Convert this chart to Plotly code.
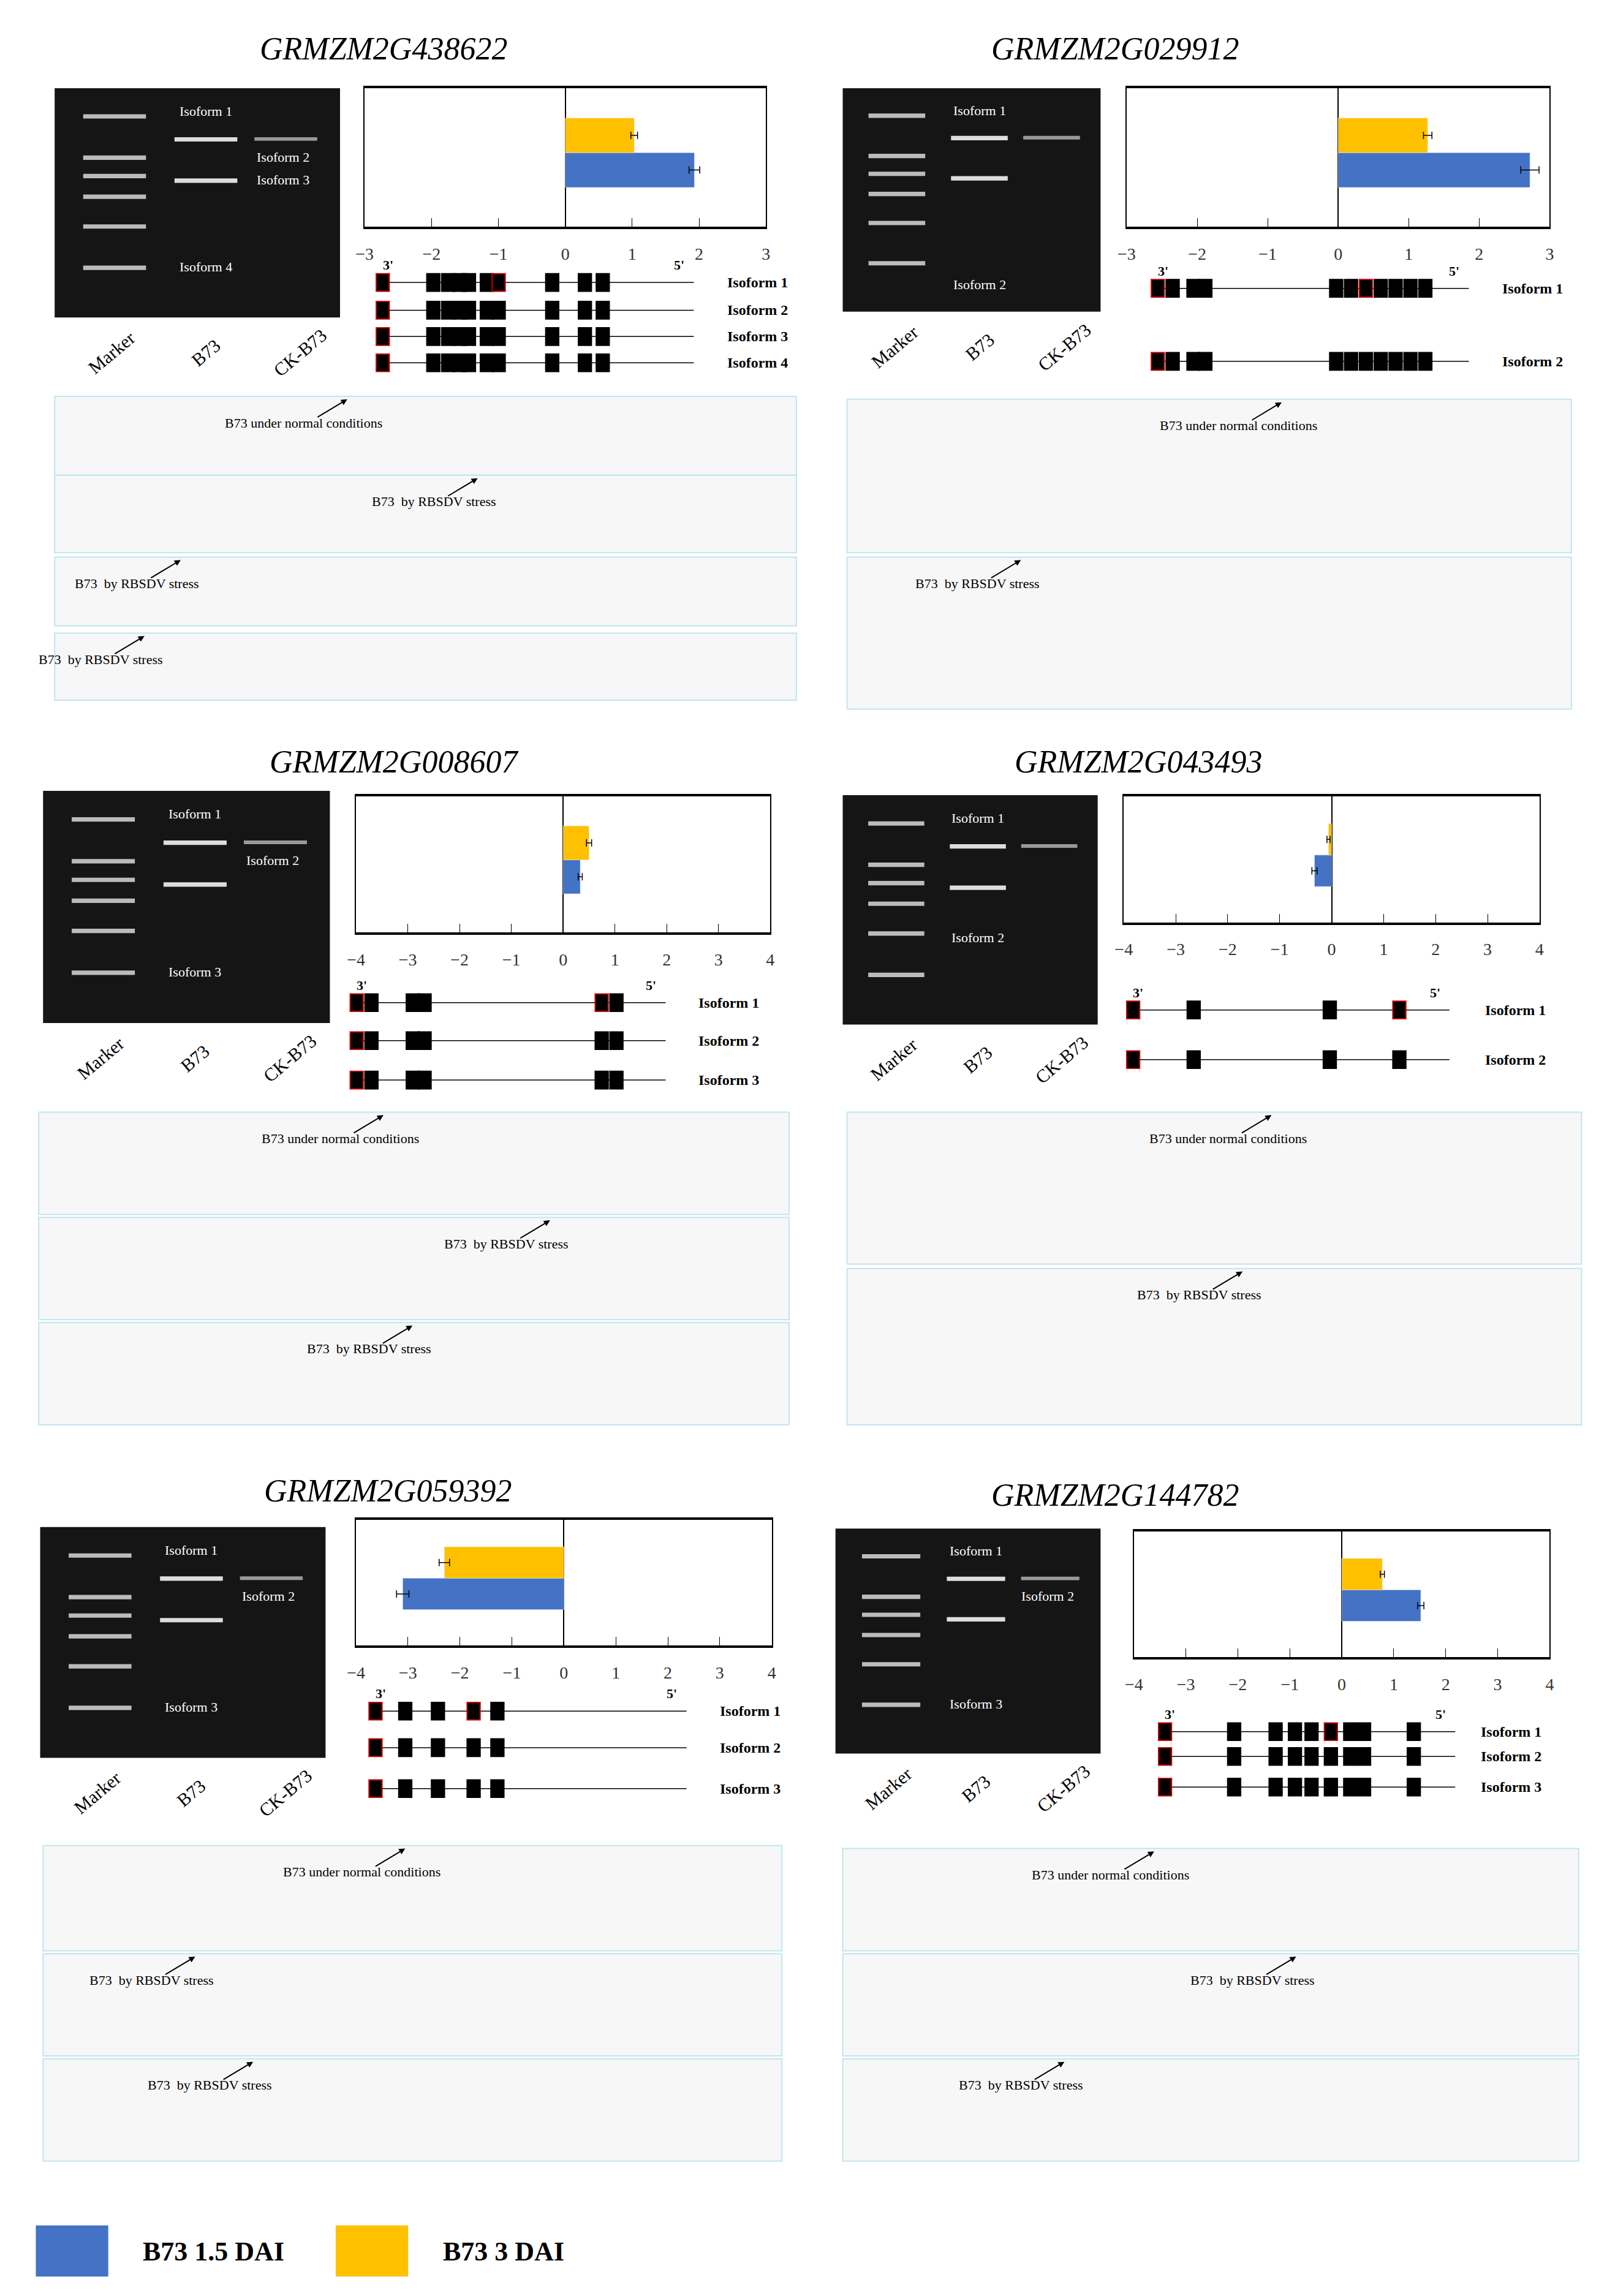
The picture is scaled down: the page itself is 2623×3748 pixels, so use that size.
import plotly.graph_objects as go

# -- fold change values (blue = 1.5 DAI, yellow = 3 DAI)
genes = ["GRMZM2G438622", "GRMZM2G029912", "GRMZM2G008607",
         "GRMZM2G043493", "GRMZM2G059392", "GRMZM2G144782"]
dai15 = [1.93, 2.72, 0.33, -0.33, -3.10, 1.52]
dai15_err = [0.08, 0.13, 0.04, 0.05, 0.12, 0.06]
dai3 = [1.03, 1.27, 0.50, -0.06, -2.30, 0.78]
dai3_err = [0.05, 0.06, 0.05, 0.03, 0.10, 0.04]
xlims = [3, 3, 4, 4, 4, 4]

BLUE = "#4472C4"
YEL = "#FFC000"
FONT = "Liberation Serif"
W, H = 1100.0, 1571.7      # layout worked in the coordinates of the reference at 1100 px wide

def px(x):
    return x / W

def py(y):
    return 1 - y / H

# panel geometry (display px): title, gel box, bar box, gene rows, chromatogram strips
panels = [
    dict(title=(255, 30), gel=(28, 57, 225, 214), box=(242, 57, 519, 152),
         genes=(250, 535, [190, 209, 227, 245]), chrom=(28, 540, [(268, 322), (322, 375), (378, 425), (430, 476)])),
    dict(title=(760, 30), gel=(572, 57, 750, 210), box=(768, 57, 1060, 152),
         genes=(785, 1070, [194, 244]), chrom=(575, 1075, [(270, 375), (378, 482)])),
    dict(title=(262, 518), gel=(20, 538, 218, 697), box=(236, 542, 522, 635),
         genes=(232, 515, [683, 709, 736]), chrom=(17, 535, [(758, 828), (830, 900), (902, 972)])),
    dict(title=(776, 518), gel=(572, 541, 748, 698), box=(766, 542, 1053, 628),
         genes=(768, 1058, [688, 722]), chrom=(575, 1082, [(758, 862), (865, 972)])),
    dict(title=(258, 1017), gel=(18, 1042, 215, 1200), box=(236, 1037, 523, 1123),
         genes=(245, 530, [1168, 1193, 1221]), chrom=(20, 530, [(1260, 1332), (1334, 1404), (1406, 1476)])),
    dict(title=(760, 1020), gel=(567, 1043, 750, 1197), box=(773, 1045, 1060, 1131),
         genes=(790, 1055, [1182, 1199, 1220]), chrom=(572, 1080, [(1262, 1332), (1334, 1404), (1406, 1476)])),
]

chrom_labels = [
    ["B73 under normal conditions", "B73  by RBSDV stress", "B73  by RBSDV stress", "B73  by RBSDV stress"],
    ["B73 under normal conditions", "B73  by RBSDV stress"],
    ["B73 under normal conditions", "B73  by RBSDV stress", "B73  by RBSDV stress"],
    ["B73 under normal conditions", "B73  by RBSDV stress"],
    ["B73 under normal conditions", "B73  by RBSDV stress", "B73  by RBSDV stress"],
    ["B73 under normal conditions", "B73  by RBSDV stress", "B73  by RBSDV stress"],
]
chrom_label_x = [[200, 290, 85, 60], [845, 665], [225, 340, 245], [838, 818], [240, 95, 135], [757, 855, 695]]

# exon layouts as fractions of the gene row width (schematic)
exon_sets = [
    [0.0, 0.17, 0.22, 0.26, 0.29, 0.35, 0.39, 0.57, 0.68, 0.74],
    [0.0, 0.05, 0.12, 0.16, 0.60, 0.65, 0.70, 0.75, 0.80, 0.85, 0.90],
    [0.0, 0.05, 0.19, 0.23, 0.83, 0.88],
    [0.0, 0.20, 0.65, 0.88],
    [0.0, 0.10, 0.21, 0.33, 0.41],
    [0.0, 0.25, 0.40, 0.47, 0.53, 0.60, 0.67, 0.72, 0.90],
]
gel_labels = [["Isoform 1", "Isoform 2", "Isoform 3", "Isoform 4"], ["Isoform 1", "Isoform 2"],
              ["Isoform 1", "Isoform 2", "Isoform 3"], ["Isoform 1", "Isoform 2"],
              ["Isoform 1", "Isoform 2", "Isoform 3"], ["Isoform 1", "Isoform 2", "Isoform 3"]]

fig = go.Figure()
shapes, annos = [], []

def note(x, y, text, size, **kw):
    d = dict(x=px(x), y=py(y), xref="paper", yref="paper", text=text, showarrow=False,
             xanchor="center", yanchor="middle", font=dict(family=FONT, size=size, color="black"))
    d.update(kw)
    annos.append(d)

for i, p in enumerate(panels):
    n = i + 1
    xa, ya = ("x" if n == 1 else f"x{n}"), ("y" if n == 1 else f"y{n}")
    xk, yk = ("xaxis" if n == 1 else f"xaxis{n}"), ("yaxis" if n == 1 else f"yaxis{n}")
    x0, y0, x1, y1 = p["box"]
    fig.add_trace(go.Bar(x=[dai15[i]], y=[0], orientation="h", marker_color=BLUE, width=1,
                         error_x=dict(type="data", array=[dai15_err[i]], color="black", thickness=1.5, width=6),
                         xaxis=xa, yaxis=ya, showlegend=False))
    fig.add_trace(go.Bar(x=[dai3[i]], y=[1], orientation="h", marker_color=YEL, width=1,
                         error_x=dict(type="data", array=[dai3_err[i]], color="black", thickness=1.5, width=6),
                         xaxis=xa, yaxis=ya, showlegend=False))
    lim = xlims[i]
    fig.update_layout({
        xk: dict(domain=[px(x0), px(x1)], anchor=ya, range=[-lim, lim], dtick=1, ticks="inside",
                 ticklen=14, tickcolor="black", showgrid=False, zeroline=True, zerolinecolor="black",
                 zerolinewidth=2, showline=True, linecolor="black", linewidth=4, mirror=True,
                 tickfont=dict(family=FONT, size=28, color="#333"), ticklabelstandoff=16),
        yk: dict(domain=[py(y1), py(y0)], anchor=xa, range=[-1.64, 2.36], showticklabels=False,
                 showgrid=False, zeroline=False, showline=True, linecolor="black", linewidth=2, mirror=True),
    })
    note(p["title"][0], p["title"][1], f"<i>{genes[i]}</i>", 52)
    # gel image stand-in
    gx0, gy0, gx1, gy1 = p["gel"]
    shapes.append(dict(type="rect", xref="paper", yref="paper", x0=px(gx0), x1=px(gx1), y0=py(gy1), y1=py(gy0),
                       fillcolor="#151515", line=dict(width=0), layer="below"))
    gw, gh = gx1 - gx0, gy1 - gy0
    for f in [0.12, 0.30, 0.38, 0.47, 0.60, 0.78]:
        shapes.append(dict(type="rect", xref="paper", yref="paper", x0=px(gx0 + 0.1 * gw), x1=px(gx0 + 0.32 * gw),
                           y0=py(gy0 + f * gh + 2), y1=py(gy0 + f * gh - 1), fillcolor="#bbbbbb", line=dict(width=0)))
    for f in [0.22, 0.40]:
        shapes.append(dict(type="rect", xref="paper", yref="paper", x0=px(gx0 + 0.42 * gw), x1=px(gx0 + 0.64 * gw),
                           y0=py(gy0 + f * gh + 2), y1=py(gy0 + f * gh - 1), fillcolor="#dddddd", line=dict(width=0)))
    shapes.append(dict(type="rect", xref="paper", yref="paper", x0=px(gx0 + 0.70 * gw), x1=px(gx0 + 0.92 * gw),
                       y0=py(gy0 + 0.22 * gh + 1.5), y1=py(gy0 + 0.22 * gh - 1), fillcolor="#999999", line=dict(width=0)))
    labs = gel_labels[i]
    for k, lab in enumerate(labs):
        if k == 0:
            lx, ly = 0.53, 0.10
        elif k == len(labs) - 1 and len(labs) > 2:
            lx, ly = 0.53, 0.78
        elif len(labs) == 2 and i != 1:
            lx, ly = 0.53, 0.62
        elif i == 1:
            lx, ly = 0.53, 0.88
        else:
            lx, ly = 0.80, 0.30 + 0.1 * (k - 1)
        note(gx0 + lx * gw, gy0 + ly * gh, lab, 22, font=dict(family=FONT, size=22, color="white"))
    for k, lab in enumerate(["Marker", "B73", "CK-B73"]):
        note(gx0 + (0.2 + 0.33 * k) * gw, gy1 + 24, lab, 30, textangle=-40)
    # gene structures
    gxa, gxb, rows = p["genes"]
    span = (gxb - gxa) * 0.72
    for k, ry in enumerate(rows):
        shapes.append(dict(type="line", xref="paper", yref="paper", x0=px(gxa), x1=px(gxa + span + 14),
                           y0=py(ry), y1=py(ry), line=dict(color="black", width=1.5)))
        for e, f in enumerate(exon_sets[i]):
            red = (e == len(exon_sets[i]) // 2 + 1 and k == 0) or e == 0
            shapes.append(dict(type="rect", xref="paper", yref="paper", x0=px(gxa + f * span),
                               x1=px(gxa + f * span + 9), y0=py(ry + 6), y1=py(ry - 6), fillcolor="black",
                               line=dict(color="#cc0000" if red else "black", width=2)))
        note(gxb, ry, f"<b>Isoform {k + 1}</b>", 24, xanchor="right")
    note(gxa + 8, rows[0] - 12, "<b>3'</b>", 22)
    note(gxa + span + 4, rows[0] - 12, "<b>5'</b>", 22)
    # chromatogram strip frames
    cx0, cx1, strips = p["chrom"]
    for k, (sy0, sy1) in enumerate(strips):
        shapes.append(dict(type="rect", xref="paper", yref="paper", x0=px(cx0), x1=px(cx1), y0=py(sy1), y1=py(sy0),
                           fillcolor="#f7f7f7", line=dict(color="#bfe6ee", width=2), layer="below"))
        lx = chrom_label_x[i][k]
        note(lx + 30, sy0 + 2, "", 22, showarrow=True, arrowhead=2, arrowsize=1, arrowwidth=2,
             ax=-50, ay=30, arrowcolor="black")
        note(lx, sy0 + 18, chrom_labels[i][k], 22)

# legend
shapes.append(dict(type="rect", xref="paper", yref="paper", x0=px(15), x1=px(65), y0=py(1555), y1=py(1520),
                   fillcolor=BLUE, line=dict(width=0)))
shapes.append(dict(type="rect", xref="paper", yref="paper", x0=px(222), x1=px(272), y0=py(1555), y1=py(1520),
                   fillcolor=YEL, line=dict(width=0)))
note(88, 1538, "<b>B73 1.5 DAI</b>", 44, xanchor="left")
note(295, 1538, "<b>B73 3 DAI</b>", 44, xanchor="left")

fig.update_layout(width=2623, height=3748, margin=dict(l=0, r=0, t=0, b=0), plot_bgcolor="white",
                  paper_bgcolor="white", shapes=shapes, annotations=annos, barmode="overlay",
                  font=dict(family=FONT))
fig.write_html("out.html")
